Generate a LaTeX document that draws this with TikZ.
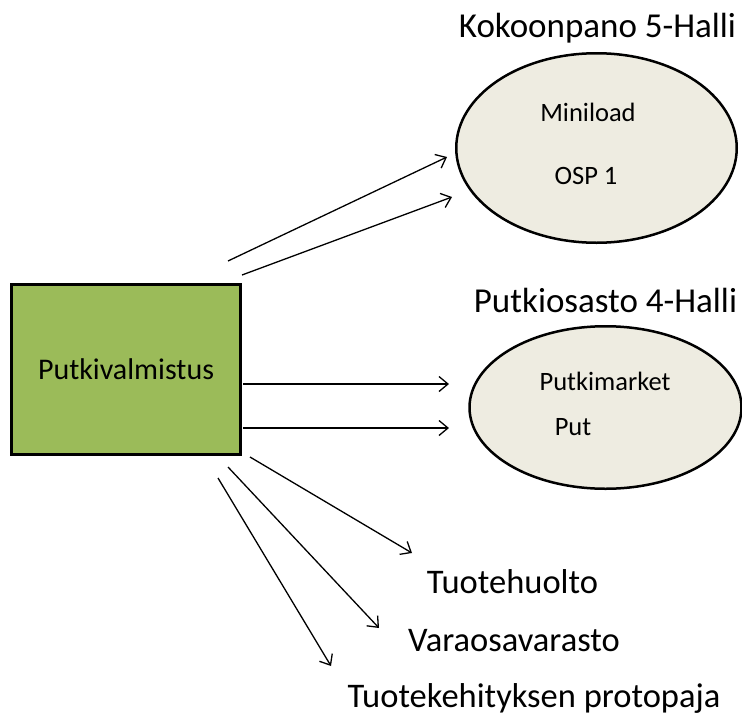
\documentclass[tikz,border=0pt]{standalone}
\usepackage{fontspec}
\setmainfont{Carlito}
\usetikzlibrary{arrows.meta,shapes.geometric}

\definecolor{boxgreen}{HTML}{9BBB59}
\definecolor{hallfill}{HTML}{EEECE1}

\tikzset{
  srcbox/.style={draw=black, line width=3pt, fill=boxgreen, minimum width=229pt,
    minimum height=170pt, inner sep=0pt, font=\fontsize{30}{33}\selectfont},
  hall/.style={ellipse, draw=black, line width=2.5pt, fill=hallfill, inner sep=0pt},
  halltitle/.style={font=\fontsize{35}{38}\selectfont, inner sep=0pt},
  inner/.style={font=\fontsize{26.5}{29}\selectfont, inner sep=0pt},
  target/.style={font=\fontsize{34.5}{38}\selectfont, inner sep=0pt},
  flow/.style={line width=1.3pt, -{Straight Barb[length=9pt,width=15pt]}}
}

\begin{document}
\begin{tikzpicture}[x=1pt, y=-1pt]
  \useasboundingbox (0,0) rectangle (742,715);

  % source block
  \node[srcbox] (src) at (126,369.5) {Putkivalmistus};

  % assembly hall
  \node[hall, minimum width=280.5pt, minimum height=189.5pt] (hallA) at (596.5,148) {};
  \node[halltitle] (titleA) at (597.5,28) {Kokoonpano 5-Halli};
  \node[inner] (mini) at (588,112) {Miniload};
  \node[inner] (osp) at (586,176) {OSP 1};

  % tube department hall
  \node[hall, minimum width=272pt, minimum height=162.5pt] (hallB) at (605.5,407.5) {};
  \node[halltitle] (titleB) at (605.5,300) {Putkiosasto 4-Halli};
  \node[inner] (pmarket) at (605,381) {Putkimarket};
  \node[inner] (put) at (573,427) {Put};

  % other destinations
  \node[target] (huolto) at (512.5,582) {Tuotehuolto};
  \node[target] (vara) at (514,641) {Varaosavarasto};
  \node[target] (proto) at (534,698) {Tuotekehityksen protopaja};

  % connector end points
  \coordinate (s1) at (228,261);  \coordinate (e1) at (447,157);
  \coordinate (s2) at (242,275);  \coordinate (e2) at (452,197);
  \coordinate (s3) at (243,384);  \coordinate (e3) at (449,384);
  \coordinate (s4) at (243,428);  \coordinate (e4) at (449,428);
  \coordinate (s5) at (250,457);  \coordinate (e5) at (412,553);
  \coordinate (s6) at (228,467);  \coordinate (e6) at (379,628);
  \coordinate (s7) at (218,478);  \coordinate (e7) at (331,666);

  \draw[flow] (s1) -- (e1);
  \draw[flow] (s2) -- (e2);
  \draw[flow] (s3) -- (e3);
  \draw[flow] (s4) -- (e4);
  \draw[flow] (s5) -- (e5);
  \draw[flow] (s6) -- (e6);
  \draw[flow] (s7) -- (e7);
\end{tikzpicture}
\end{document}
